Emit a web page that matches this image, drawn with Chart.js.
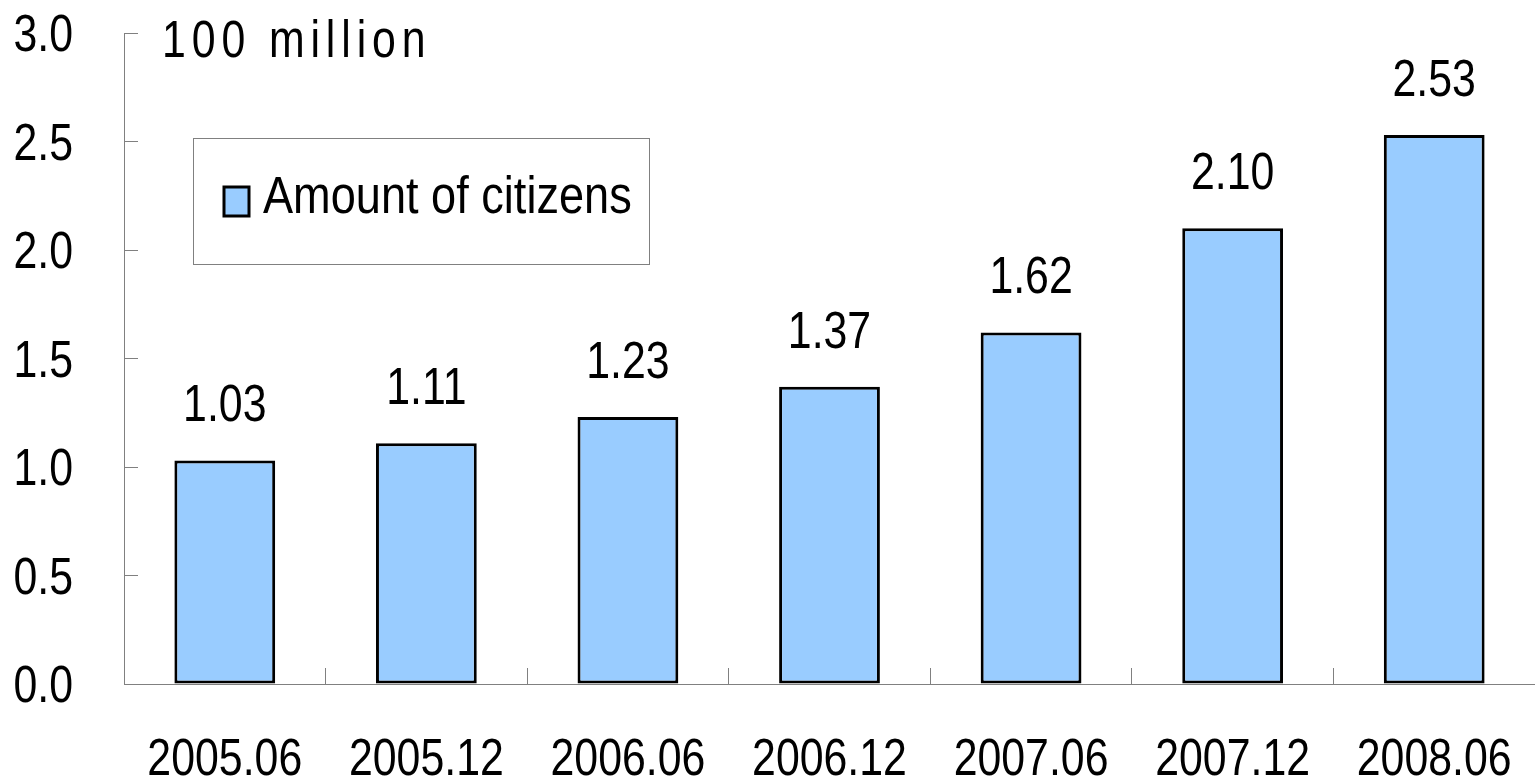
<!DOCTYPE html>
<html>
<head>
<meta charset="utf-8">
<title>Amount of citizens</title>
<script src="https://cdn.jsdelivr.net/npm/chart.js@4.4.0/dist/chart.umd.min.js"></script>
<style>
  html, body { margin: 0; padding: 0; background: #fff; }
  #wrap { width: 1535px; height: 782px; position: relative; }
</style>
</head>
<body>
<div id="wrap"><canvas id="chartCitizens"></canvas></div>
<script>
/* ------------------------------------------------------------
   Data
   ------------------------------------------------------------ */
const periods = ["2005.06", "2005.12", "2006.06", "2006.12", "2007.06", "2007.12", "2008.06"];
const citizens = [1.03, 1.11, 1.23, 1.37, 1.62, 2.10, 2.53];
const seriesLabel = "Amount of citizens";
const unitLabel = "100 million";

const FONT = "'Liberation Sans', Arial, sans-serif";
const FONT_PX = 51;
const NARROW = 0.84;          // the original uses a narrow face; squeeze the regular one
const BAR_FILL = "#99ccff";
const AXIS_GRAY = "#808080";

/* draw a horizontally squeezed text at (x, y) baseline */
function narrowText(ctx, text, x, y, align, sx, spacing) {
    ctx.save();
    ctx.translate(x, y);
    ctx.scale(sx, 1);
    ctx.font = FONT_PX + "px " + FONT;
    ctx.fillStyle = "#000";
    ctx.textAlign = align;
    ctx.textBaseline = "alphabetic";
    if (spacing && "letterSpacing" in ctx) ctx.letterSpacing = spacing;
    ctx.fillText(text, 0, 0);
    ctx.restore();
}

/* ------------------------------------------------------------
   Plugins: tick labels, value labels, unit text, boxed legend
   ------------------------------------------------------------ */
const axisLabels = {
    id: "axisLabels",
    afterDraw(chart) {
        const ctx = chart.ctx;
        const xs = chart.scales.x;
        const ys = chart.scales.y;

        xs.ticks.forEach((t, i) => {
            narrowText(ctx, xs.getLabelForValue(t.value), xs.getPixelForTick(i), 775, "center", NARROW);
        });
        ys.ticks.forEach(t => {
            narrowText(ctx, t.label, 73, ys.getPixelForValue(t.value) + 18, "right", NARROW);
        });
    }
};

const valueLabels = {
    id: "valueLabels",
    afterDatasetsDraw(chart) {
        const meta = chart.getDatasetMeta(0);
        meta.data.forEach((bar, i) => {
            const v = chart.data.datasets[0].data[i];
            narrowText(chart.ctx, v.toFixed(2), bar.x, bar.y - 39, "center", NARROW);
        });
    }
};

const unitText = {
    id: "unitText",
    afterDraw(chart) {
        narrowText(chart.ctx, unitLabel, 162, 57, "left", NARROW, "7px");
    }
};

const boxLegend = {
    id: "boxLegend",
    afterDraw(chart) {
        const ctx = chart.ctx;
        const ds = chart.data.datasets[0];
        ctx.save();
        ctx.strokeStyle = AXIS_GRAY;
        ctx.lineWidth = 1;
        ctx.strokeRect(193.5, 138.5, 456, 126);

        ctx.fillStyle = ds.backgroundColor;
        ctx.fillRect(224, 187, 25, 29);
        ctx.strokeStyle = "#000";
        ctx.lineWidth = 3;
        ctx.strokeRect(224, 187, 25, 29);
        ctx.restore();

        narrowText(ctx, ds.label, 263, 213, "left", 0.885);
    }
};

/* ------------------------------------------------------------
   Chart
   ------------------------------------------------------------ */
function renderCitizensChart() {
    const el = document.getElementById("chartCitizens");

    new Chart(el, {
        type: "bar",
        data: {
            labels: periods,
            datasets: [{
                label: seriesLabel,
                data: citizens,
                backgroundColor: BAR_FILL,
                borderColor: "#000",
                borderWidth: 3,
                borderSkipped: false,
                barPercentage: 0.5,
                categoryPercentage: 1.0
            }]
        },
        options: {
            responsive: true,
            maintainAspectRatio: false,
            animation: false,
            layout: { padding: { top: 33, right: 0, left: 0, bottom: 0 } },
            plugins: {
                legend: { display: false },
                tooltip: { enabled: false }
            },
            scales: {
                x: {
                    afterFit: s => { s.height = 98; },
                    grid: {
                        drawOnChartArea: false,
                        offset: true,
                        color: AXIS_GRAY,
                        tickLength: -16,
                        lineWidth: 1
                    },
                    border: { color: AXIS_GRAY, width: 1 },
                    ticks: { display: false, autoSkip: false, maxRotation: 0 }
                },
                y: {
                    min: 0,
                    max: 3,
                    afterFit: s => { s.width = 124; },
                    grid: {
                        drawOnChartArea: false,
                        color: AXIS_GRAY,
                        tickLength: -14,
                        lineWidth: 1
                    },
                    border: { color: AXIS_GRAY, width: 1 },
                    ticks: {
                        display: false,
                        stepSize: 0.5,
                        callback: v => v.toFixed(1)
                    }
                }
            }
        },
        plugins: [axisLabels, valueLabels, unitText, boxLegend]
    });
}

document.addEventListener("DOMContentLoaded", renderCitizensChart);
</script>
</body>
</html>
